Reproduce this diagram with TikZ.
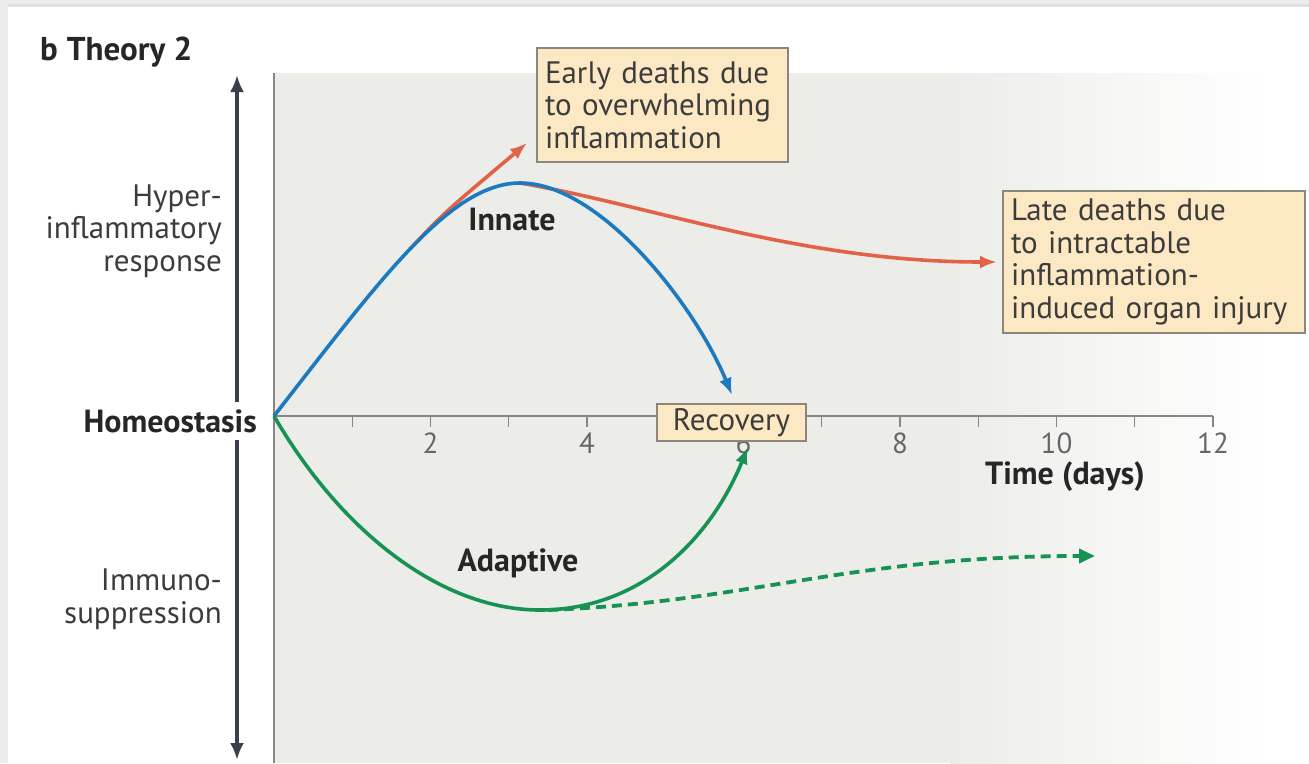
\documentclass[tikz,border=0pt]{standalone}
\usepackage{fontspec}
\setmainfont{PT Sans}
\usetikzlibrary{arrows.meta}
\definecolor{cblue}{RGB}{28,122,192}
\definecolor{cred}{RGB}{226,98,72}
\definecolor{cgreen}{RGB}{22,146,82}
\definecolor{boxfill}{RGB}{252,233,196}
\definecolor{boxline}{RGB}{140,135,122}
\definecolor{axisdark}{RGB}{55,65,78}
\definecolor{plotline}{RGB}{135,135,135}
\definecolor{bggray}{RGB}{236,236,233}
\definecolor{framegray}{RGB}{236,236,236}
\definecolor{txt}{RGB}{60,60,60}
\tikzset{
  base/.style={font=\fontsize{31}{32.5}\selectfont, text=txt},
  lbl/.style={base, inner sep=0pt},
  bold/.style={font=\fontsize{32}{34}\selectfont\bfseries, text=black!85, inner sep=0pt},
  boxnode/.style={base, draw=boxline, line width=1.3pt, fill=boxfill, align=left, inner xsep=8pt, inner ysep=4pt},
  curve/.style={line width=3.6pt, -{Latex[length=17pt,width=13pt]}},
  ticklbl/.style={font=\fontsize{29}{30}\selectfont, text=black!60, inner sep=0pt},
}
\begin{document}
\begin{tikzpicture}[x=1pt,y=-1pt]
\useasboundingbox (0,0) rectangle (1309,763);
\fill[white] (0,0) rectangle (1309,763);
\fill[framegray] (0,0) rectangle (1309,7);
\fill[black!12] (0,4) rectangle (1309,7);
\fill[framegray] (0,0) rectangle (8,763);
% plot background
\fill[bggray] (274,73) rectangle (950,763);
\shade[left color=bggray, right color=white] (950,73) rectangle (1270,763);
\draw[plotline, line width=1.5pt] (274,73) -- (274,763);
% horizontal axis
\coordinate (O) at (274,416);
\coordinate (xend) at (1213,416);
\draw[plotline, line width=1.6pt] (O) -- (xend);
\foreach \k in {1,...,12} {
  \draw[plotline, line width=1.4pt] (274+78.25*\k,416) -- (274+78.25*\k,427);
}
\foreach \k in {2,4,...,12} {
  \node[ticklbl] (t\k) at (274+78.25*\k,443) {\k};
}
\node[bold] (time) at (1065,477) {Time (days)};
% vertical double arrow
\coordinate (vtop) at (237,75);
\coordinate (vbot) at (237,760);
\draw[axisdark, line width=3.6pt, {Latex[length=17pt,width=14pt]}-{Latex[length=17pt,width=14pt]}] (vbot) -- (vtop);
\node[bold, fill=white, anchor=east, inner xsep=3pt, inner ysep=7pt] (homeo) at (260,421) {Homeostasis};
\node[lbl, anchor=east, align=right] (hyper) at (222,231) {Hyper-\\inflammatory\\response};
\node[lbl, anchor=east, align=right] (immuno) at (222,599) {Immuno-\\suppression};
\node[bold, anchor=west, font=\fontsize{33}{35}\selectfont\bfseries] (title) at (40,52) {b\hspace{9pt}Theory 2};
% boxes
\node[boxnode, text width=235pt, minimum height=114pt] (early) at (662.5,105) {Early deaths due\\to overwhelming\\inflammation};
\node[boxnode, text width=286pt, minimum height=142pt] (late) at (1154,262) {Late deaths due\\to intractable\\inflammation-\\induced organ injury};
% curves
\coordinate (Bpk) at (520,183);
\coordinate (Rs) at (410,249);
\coordinate (Rtip) at (527,143);
\coordinate (Ltip) at (997,262);
\coordinate (Btip) at (732,395);
\coordinate (Gtr) at (540,610);
\coordinate (Gtip) at (748,447);
\coordinate (Ds) at (548,610);
\coordinate (Dtip) at (1095,556);
\draw[cred, curve] (Rs) .. controls (445,212) .. (Rtip);
\draw[cred, curve] (Bpk) .. controls (650,205) and (800,262) .. (Ltip);
\draw[cblue, line width=3.6pt] (O) .. controls (380,280) and (450,183) .. (Bpk);
\draw[cblue, curve] (Bpk) .. controls (600,183) and (695,305) .. (Btip);
\draw[cgreen, line width=3.6pt] (O) .. controls (340,530) and (440,610) .. (Gtr);
\draw[cgreen, curve] (Gtr) .. controls (640,610) and (710,540) .. (Gtip);
\draw[cgreen, line width=3.8pt, dash pattern=on 10pt off 6pt, -{Triangle[length=16pt,width=14pt]}] (Ds) .. controls (750,602) and (850,556) .. (Dtip);
\node[boxnode, align=center, inner ysep=1pt, minimum width=149pt, minimum height=37pt] (recov) at (731.5,422.5) {Recovery};
\node[bold] (innate) at (512,220) {Innate};
\node[bold] (adaptive) at (518,563) {Adaptive};
\end{tikzpicture}
\end{document}
